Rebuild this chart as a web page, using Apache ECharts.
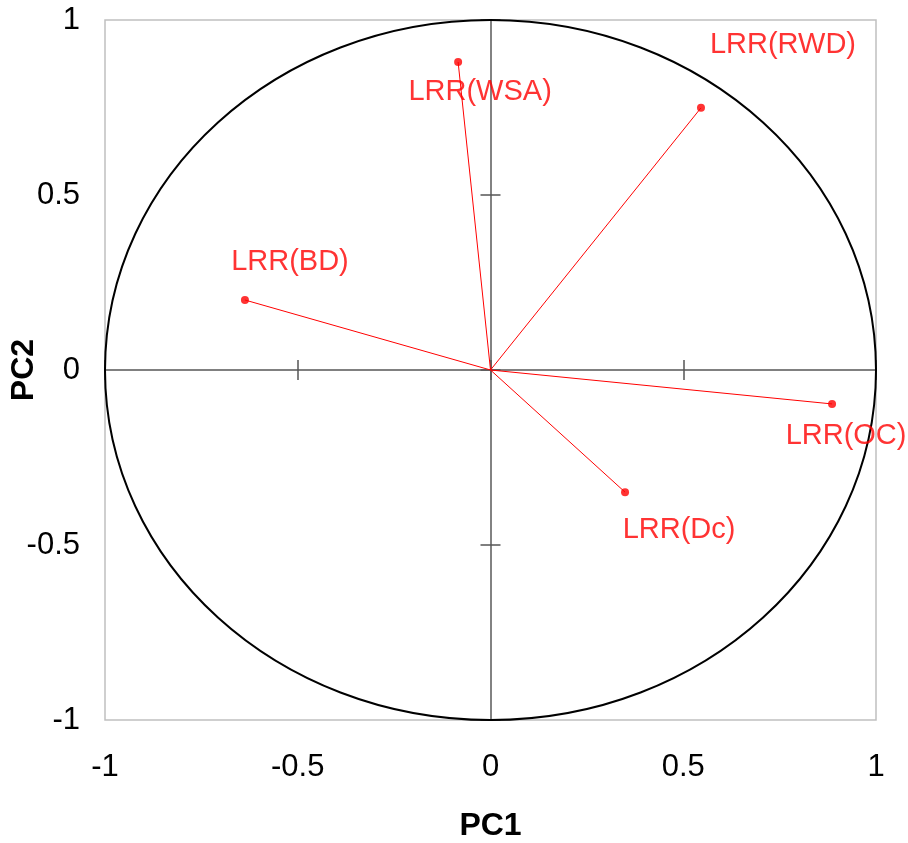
<!DOCTYPE html>
<html>
<head>
<meta charset="utf-8">
<script src="https://cdn.jsdelivr.net/npm/echarts@6/dist/echarts.min.js"></script>
<style>
  html, body { margin: 0; padding: 0; background: #fff; }
  #main { width: 908px; height: 843px; }
</style>
</head>
<body>
<div id="main"></div>
<script>
// loadings
var varNames = ['LRR(WSA)', 'LRR(RWD)', 'LRR(BD)', 'LRR(OC)', 'LRR(Dc)'];
var pc1 = [-0.084, 0.546, -0.637, 0.886, 0.349];
var pc2 = [0.880, 0.749, 0.200, -0.097, -0.349];

// where each label sits relative to its dot
var labelOffset = {
    'LRR(WSA)': [22, 30],
    'LRR(RWD)': [82, -63],
    'LRR(BD)': [45, -38],
    'LRR(OC)': [14, 32],
    'LRR(Dc)': [54, 38]
};

var font = 'Liberation Sans, Arial, sans-serif';
var red = '#ff0000';

var points = [];
var lineSeries = [];
for (var i = 0; i < varNames.length; i++) {
    points.push({
        name: varNames[i],
        value: [pc1[i], pc2[i]],
        label: { offset: labelOffset[varNames[i]] }
    });
    lineSeries.push({
        type: 'line',
        xAxisIndex: 0,
        yAxisIndex: 0,
        data: [[0, 0], [pc1[i], pc2[i]]],
        symbol: 'none',
        silent: true,
        lineStyle: { color: red, width: 1 },
        z: 3
    });
}

function zeroAxis(inside) {
    return {
        type: 'value',
        min: -1, max: 1, interval: 0.5,
        axisLine: { show: true, onZero: true, lineStyle: { color: '#7a7a7a', width: 1.5 } },
        axisTick: { show: true, inside: inside, length: 10, lineStyle: { color: '#555', width: 1.5 } },
        axisLabel: { show: false },
        splitLine: { show: false }
    };
}

var chart = echarts.init(document.getElementById('main'));
chart.setOption({
    animation: false,
    grid: {
        left: 105, right: 32, top: 20, bottom: 123,
        outerBoundsMode: 'none',
        containLabel: false,
        show: true, borderColor: '#c0c0c0', borderWidth: 1.5
    },
    xAxis: [
        {
            type: 'value', position: 'bottom',
            min: -1, max: 1, interval: 0.5,
            axisLine: { show: false }, axisTick: { show: false }, splitLine: { show: false },
            axisLabel: { margin: 32, fontSize: 31, color: '#000', fontFamily: font },
            name: 'PC1', nameLocation: 'middle', nameGap: 90, nameMoveOverlap: false,
            nameTextStyle: { fontSize: 32, fontWeight: 'bold', color: '#000', fontFamily: font }
        },
        zeroAxis(true),
        zeroAxis(false)
    ],
    yAxis: [
        {
            type: 'value', position: 'left',
            min: -1, max: 1, interval: 0.5,
            axisLine: { show: false }, axisTick: { show: false }, splitLine: { show: false },
            axisLabel: { margin: 25, fontSize: 31, color: '#000', fontFamily: font },
            name: 'PC2', nameLocation: 'middle', nameGap: 65, nameMoveOverlap: false,
            nameTextStyle: { fontSize: 32, fontWeight: 'bold', color: '#000', fontFamily: font }
        },
        zeroAxis(true),
        zeroAxis(false)
    ],
    series: [
        {
            type: 'custom',
            xAxisIndex: 0,
            yAxisIndex: 0,
            silent: true,
            data: [[0, 0]],
            renderItem: function (params, api) {
                var c = api.coord([0, 0]);
                var ex = api.coord([1, 0]);
                var ey = api.coord([0, 1]);
                return {
                    type: 'ellipse',
                    shape: { cx: c[0], cy: c[1], rx: ex[0] - c[0], ry: c[1] - ey[1] },
                    style: { fill: 'none', stroke: '#000', lineWidth: 2 }
                };
            },
            z: 2
        }
    ].concat(lineSeries).concat([
        {
            type: 'scatter',
            xAxisIndex: 0,
            yAxisIndex: 0,
            data: points,
            symbolSize: 8,
            itemStyle: { color: red },
            label: {
                show: true,
                position: 'inside',
                formatter: '{b}',
                color: red,
                fontSize: 29,
                fontFamily: font
            },
            z: 4
        }
    ])
});
</script>
</body>
</html>
